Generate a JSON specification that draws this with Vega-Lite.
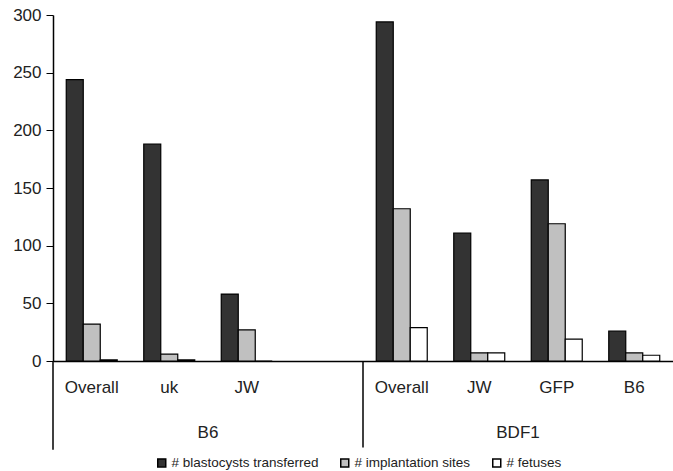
{
  "$schema": "https://vega.github.io/schema/vega-lite/v6.json",
  "width": 620,
  "height": 346,
  "autosize": "none",
  "padding": {"left": 53, "top": 15, "right": 0, "bottom": 110},
  "config": {"font": "Liberation Sans", "view": {"stroke": null}},
  "datasets": {
    "bars": [
      {"key": "B6|Overall", "series": "# blastocysts transferred", "value": 244},
      {"key": "B6|Overall", "series": "# implantation sites", "value": 32},
      {"key": "B6|Overall", "series": "# fetuses", "value": 1},
      {"key": "B6|uk", "series": "# blastocysts transferred", "value": 188},
      {"key": "B6|uk", "series": "# implantation sites", "value": 6},
      {"key": "B6|uk", "series": "# fetuses", "value": 1},
      {"key": "B6|JW", "series": "# blastocysts transferred", "value": 58},
      {"key": "B6|JW", "series": "# implantation sites", "value": 27},
      {"key": "B6|JW", "series": "# fetuses", "value": 0},
      {"key": "BDF1|Overall", "series": "# blastocysts transferred", "value": 294},
      {"key": "BDF1|Overall", "series": "# implantation sites", "value": 132},
      {"key": "BDF1|Overall", "series": "# fetuses", "value": 29},
      {"key": "BDF1|JW", "series": "# blastocysts transferred", "value": 111},
      {"key": "BDF1|JW", "series": "# implantation sites", "value": 7},
      {"key": "BDF1|JW", "series": "# fetuses", "value": 7},
      {"key": "BDF1|GFP", "series": "# blastocysts transferred", "value": 157},
      {"key": "BDF1|GFP", "series": "# implantation sites", "value": 119},
      {"key": "BDF1|GFP", "series": "# fetuses", "value": 19},
      {"key": "BDF1|B6", "series": "# blastocysts transferred", "value": 26},
      {"key": "BDF1|B6", "series": "# implantation sites", "value": 7},
      {"key": "BDF1|B6", "series": "# fetuses", "value": 5}
    ],
    "groups": [
      {"group": "B6", "anchor": "B6|uk"},
      {"group": "BDF1", "anchor": "BDF1|JW"}
    ],
    "lines": [
      {"anchor": "B6|Overall", "top": 0, "bottom": -77},
      {"anchor": "BDF1|Overall", "top": 0, "bottom": -75}
    ]
  },
  "layer": [
    {
      "data": {"name": "bars"},
      "mark": {"type": "bar", "stroke": "#000000", "strokeWidth": 1.2},
      "encoding": {
        "x": {
          "field": "key", "type": "nominal",
          "scale": {"domain": ["B6|Overall", "B6|uk", "B6|JW", "B6|", "BDF1|Overall", "BDF1|JW", "BDF1|GFP", "BDF1|B6"], "paddingInner": 0, "paddingOuter": 0},
          "axis": {"title": null, "ticks": false, "labelAngle": 0, "labelFontSize": 17, "labelColor": "#222222", "labelPadding": 18, "domainColor": "#000000", "domainWidth": 1.5, "labelExpr": "split(datum.value, '|')[1]"}
        },
        "xOffset": {
          "field": "series", "type": "nominal",
          "scale": {"domain": ["# blastocysts transferred", "# implantation sites", "# fetuses"], "paddingInner": 0, "paddingOuter": 0.78}
        },
        "y": {
          "field": "value", "type": "quantitative",
          "scale": {"domain": [0, 300], "nice": false},
          "axis": {"title": null, "values": [0, 50, 100, 150, 200, 250, 300], "grid": false, "domainColor": "#000000", "domainWidth": 1.5, "tickColor": "#000000", "tickSize": 7, "labelFontSize": 17, "labelColor": "#222222", "labelPadding": 5}
        },
        "color": {
          "field": "series", "type": "nominal",
          "scale": {"domain": ["# blastocysts transferred", "# implantation sites", "# fetuses"], "range": ["#333333", "#c0c0c0", "#ffffff"]},
          "legend": {"title": null, "orient": "none", "direction": "horizontal", "legendX": 102, "legendY": 441, "symbolType": "square", "symbolSize": 64, "symbolStrokeColor": "#000000", "symbolStrokeWidth": 1.5, "labelFontSize": 13.5, "labelColor": "#222222", "columnPadding": 18, "labelOffset": 3}
        }
      }
    },
    {
      "data": {"name": "groups"},
      "mark": {"type": "text", "fontSize": 17, "color": "#222222", "baseline": "middle", "dy": 72},
      "encoding": {
        "x": {"field": "anchor", "type": "nominal", "bandPosition": 1},
        "y": {"datum": 0, "type": "quantitative", "scale": {"domain": [0, 300], "nice": false}},
        "text": {"field": "group"}
      }
    },
    {
      "data": {"name": "lines"},
      "mark": {"type": "rule", "color": "#000000", "strokeWidth": 1.5},
      "encoding": {
        "x": {"field": "anchor", "type": "nominal", "bandPosition": 0},
        "y": {"field": "top", "type": "quantitative", "scale": {"domain": [0, 300], "nice": false}},
        "y2": {"field": "bottom"}
      }
    }
  ]
}
